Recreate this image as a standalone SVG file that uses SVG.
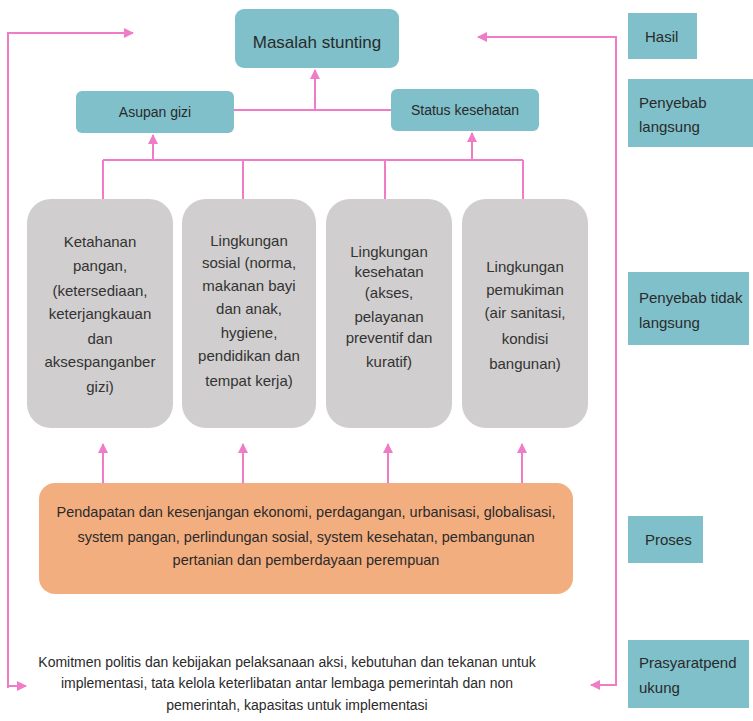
<svg xmlns="http://www.w3.org/2000/svg" width="753" height="721" viewBox="0 0 753 721">
<defs>
<marker id="ah" viewBox="0 0 10 10" refX="9" refY="5" markerWidth="5" markerHeight="5" orient="auto" markerUnits="strokeWidth">
<path d="M0,0 L10,5 L0,10 z" fill="#F07CC8"/>
</marker>
<style>
.ln{fill:none;stroke:#F07CC8;stroke-width:2}
.arr{fill:none;stroke:#F07CC8;stroke-width:2;marker-end:url(#ah)}
.teal{fill:#7FC0CA}
.gray{fill:#D0CECE}
.org{fill:#F3AE80}
text{font-family:"Liberation Sans",Arial,sans-serif;fill:#2a2a2a}
.c{text-anchor:middle}
.g{font-size:15px;fill:#333}
.lab{font-size:15px}
</style>
</defs>
<rect width="753" height="721" fill="#fff"/>
<g id="connectors">
<polyline class="arr" points="8,688 8,33 133,33"/>
<polyline class="arr" points="8,686 26,686"/>
<polyline class="arr" points="616,686 616,37 478,37"/>
<polyline class="arr" points="616,685 591,685"/>
<line class="ln" x1="234" y1="110" x2="391" y2="110"/>
<line class="arr" x1="315" y1="110" x2="315" y2="70"/>
<line class="ln" x1="103" y1="160" x2="523" y2="160"/>
<line class="arr" x1="153" y1="160" x2="153" y2="135"/>
<line class="arr" x1="472" y1="160" x2="472" y2="133"/>
<line class="ln" x1="103" y1="160" x2="103" y2="199"/>
<line class="ln" x1="243" y1="160" x2="243" y2="199"/>
<line class="ln" x1="385" y1="160" x2="385" y2="199"/>
<line class="ln" x1="523" y1="160" x2="523" y2="199"/>
<line class="arr" x1="103" y1="483" x2="103" y2="444"/>
<line class="arr" x1="243" y1="483" x2="243" y2="444"/>
<line class="arr" x1="388" y1="483" x2="388" y2="444"/>
<line class="arr" x1="522" y1="483" x2="522" y2="444"/>
</g>
<g id="masalah">
<rect class="teal" x="235" y="9" width="164" height="59" rx="9"/>
<text class="c" x="317" y="48" font-size="17">Masalah stunting</text>
</g>
<g id="asupan">
<rect class="teal" x="76" y="91" width="158" height="42" rx="6"/>
<text class="c" x="155" y="117" font-size="14">Asupan gizi</text>
</g>
<g id="status">
<rect class="teal" x="391" y="89" width="148" height="42" rx="6"/>
<text class="c" x="465" y="115" font-size="14">Status kesehatan</text>
</g>
<g id="ketahanan">
<rect class="gray" x="27" y="199" width="146" height="229" rx="24"/>
<text class="c g" x="100"><tspan x="100" y="247">Ketahanan</tspan><tspan x="100" y="271">pangan,</tspan><tspan x="100" y="296">(ketersediaan,</tspan><tspan x="100" y="319">keterjangkauan</tspan><tspan x="100" y="344">dan</tspan><tspan x="100" y="367">aksespanganber</tspan><tspan x="100" y="392">gizi)</tspan></text>
</g>
<g id="sosial">
<rect class="gray" x="182" y="199" width="134" height="229" rx="24"/>
<text class="c g" x="249"><tspan x="249" y="246">Lingkungan</tspan><tspan x="249" y="268">sosial (norma,</tspan><tspan x="249" y="291">makanan bayi</tspan><tspan x="249" y="314">dan anak,</tspan><tspan x="249" y="338">hygiene,</tspan><tspan x="249" y="361">pendidikan dan</tspan><tspan x="249" y="386">tempat kerja)</tspan></text>
</g>
<g id="kesehatan">
<rect class="gray" x="326" y="199" width="126" height="229" rx="24"/>
<text class="c g" x="389"><tspan x="389" y="257">Lingkungan</tspan><tspan x="389" y="277">kesehatan</tspan><tspan x="389" y="298">(akses,</tspan><tspan x="389" y="322">pelayanan</tspan><tspan x="389" y="343">preventif dan</tspan><tspan x="389" y="367">kuratif)</tspan></text>
</g>
<g id="pemukiman">
<rect class="gray" x="462" y="199" width="126" height="229" rx="24"/>
<text class="c g" x="525"><tspan x="525" y="272">Lingkungan</tspan><tspan x="525" y="295">pemukiman</tspan><tspan x="525" y="318">(air sanitasi,</tspan><tspan x="525" y="344">kondisi</tspan><tspan x="525" y="369">bangunan)</tspan></text>
</g>
<g id="proses-box">
<rect class="org" x="39" y="483" width="534" height="111" rx="16"/>
<text class="c" font-size="14.5" x="306"><tspan x="306" y="517">Pendapatan dan kesenjangan ekonomi, perdagangan, urbanisasi, globalisasi,</tspan><tspan x="306" y="542">system pangan, perlindungan sosial, system kesehatan, pembangunan</tspan><tspan x="306" y="565">pertanian dan pemberdayaan perempuan</tspan></text>
</g>
<g id="prasyarat-text">
<text class="c" font-size="14" x="288"><tspan x="287" y="667">Komitmen politis dan kebijakan pelaksanaan aksi, kebutuhan dan tekanan untuk</tspan><tspan x="287" y="688">implementasi, tata kelola keterlibatan antar lembaga pemerintah dan non</tspan><tspan x="297" y="710">pemerintah, kapasitas untuk implementasi</tspan></text>
</g>
<g id="hasil">
<rect class="teal" x="628" y="13" width="69" height="46"/>
<text class="lab" x="645" y="42">Hasil</text>
</g>
<g id="penyebab-langsung">
<rect class="teal" x="628" y="79" width="125" height="68"/>
<text class="lab"><tspan x="639" y="108">Penyebab</tspan><tspan x="639" y="132">langsung</tspan></text>
</g>
<g id="penyebab-tidak">
<rect class="teal" x="628" y="272" width="121" height="73"/>
<text class="lab"><tspan x="639" y="303">Penyebab tidak</tspan><tspan x="639" y="328">langsung</tspan></text>
</g>
<g id="proses">
<rect class="teal" x="628" y="516" width="75" height="47"/>
<text class="lab" x="645" y="545">Proses</text>
</g>
<g id="prasyarat">
<rect class="teal" x="628" y="640" width="121" height="68"/>
<text class="lab"><tspan x="639" y="668">Prasyaratpend</tspan><tspan x="639" y="693">ukung</tspan></text>
</g>
</svg>
